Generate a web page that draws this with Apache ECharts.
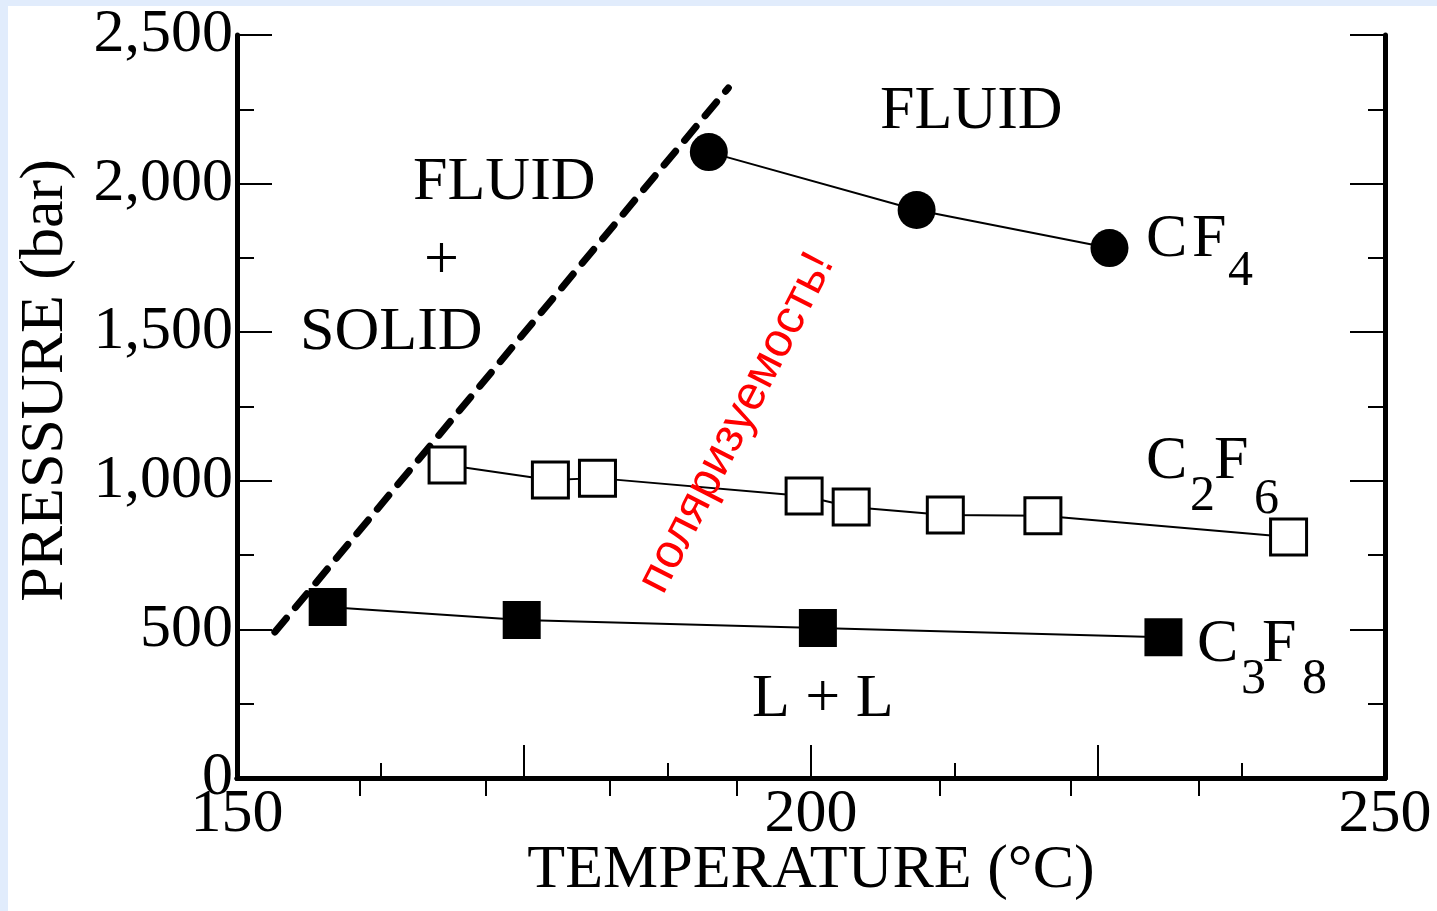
<!DOCTYPE html>
<html>
<head>
<meta charset="utf-8">
<title>Pressure vs temperature</title>
<script src="https://cdn.jsdelivr.net/npm/echarts@6/dist/echarts.min.js"></script>
<style>
    html, body { margin: 0; padding: 0; background: #ffffff; }
    #chart { width: 1437px; height: 911px; }
</style>
</head>
<body>
<div id="chart"></div>
<script>
// data
var cf4Temp = [191.1, 209.2, 226.0];
var cf4Pres = [2106, 1911, 1783];

var c2f6Temp = [168.3, 177.3, 181.4, 199.4, 203.5, 211.7, 220.2, 241.6];
var c2f6Pres = [1053, 1003, 1009, 949, 912, 885, 882, 811];

var c3f8Temp = [157.9, 174.8, 200.6, 230.7];
var c3f8Pres = [575, 532, 505, 474];

// the dashed solid/fluid boundary
var boundaryTemp = [153.3, 192.8];
var boundaryPres = [491, 2322];

var xLabelValues = [150, 200, 250];
var topTickValues = [160.7, 171.7, 182.5, 193.5, 211.2, 222.6, 233.8];

function pairs(xs, ys) {
    var out = [];
    for (let i = 0; i < xs.length; i++) {
        out.push([xs[i], ys[i]]);
    }
    return out;
}

var serif = 'Liberation Serif';
var chart = echarts.init(document.getElementById('chart'));

// plain text placed on the plot
function txt(s, x, y, size) {
    return {
        type: 'text', x: x, y: y, z: 50,
        style: {
            text: s, fontFamily: serif, fontSize: size || 62, fill: '#000',
            align: 'left', verticalAlign: 'middle'
        }
    };
}

var option = {
    backgroundColor: '#ffffff',
    animation: false,
    grid: { left: 237, right: 52, top: 35, bottom: 133, outerBoundsMode: 'none', containLabel: false },
    xAxis: [
        {
            type: 'value', position: 'bottom', min: 150, max: 250, interval: 25,
            name: 'TEMPERATURE (°C)', nameLocation: 'middle', nameGap: 62, nameMoveOverlap: false,
            nameTextStyle: { fontFamily: serif, fontSize: 62, color: '#000' },
            axisLine: { show: true, lineStyle: { color: '#000', width: 5 } },
            axisTick: { show: true, inside: true, length: 33, lineStyle: { color: '#000', width: 2 } },
            minorTick: { show: true, splitNumber: 2, length: 15, lineStyle: { color: '#000', width: 2 } },
            axisLabel: { customValues: xLabelValues, fontFamily: serif, fontSize: 62, color: '#000', margin: 6 },
            splitLine: { show: false }
        },
        {
            type: 'value', position: 'top', min: 150, max: 250,
            axisLine: { show: true, lineStyle: { color: '#000', width: 5 } },
            axisTick: { show: true, inside: true, length: 18, customValues: topTickValues, lineStyle: { color: '#000', width: 2 } },
            axisLabel: { show: false },
            splitLine: { show: false }
        }
    ],
    yAxis: [
        {
            type: 'value', position: 'left', min: 0, max: 2500, interval: 500,
            name: 'PRESSURE (bar)', nameLocation: 'middle', nameGap: 160, nameMoveOverlap: false,
            nameTextStyle: { fontFamily: serif, fontSize: 62, color: '#000', padding: [0, 0, 0, 52] },
            axisLine: { show: true, lineStyle: { color: '#000', width: 5 } },
            axisTick: { show: true, inside: true, length: 35, lineStyle: { color: '#000', width: 2 } },
            minorTick: { show: true, splitNumber: 2, length: 17, lineStyle: { color: '#000', width: 2 } },
            axisLabel: {
                fontFamily: serif, fontSize: 62, color: '#000', margin: 4,
                formatter: function (v) { return v.toLocaleString('en-US'); }
            },
            splitLine: { show: false }
        },
        {
            type: 'value', position: 'right', min: 0, max: 2500, interval: 500,
            axisLine: { show: true, lineStyle: { color: '#000', width: 5 } },
            axisTick: { show: true, inside: true, length: 35, lineStyle: { color: '#000', width: 2 } },
            minorTick: { show: true, splitNumber: 2, length: 17, lineStyle: { color: '#000', width: 2 } },
            axisLabel: { show: false },
            splitLine: { show: false }
        }
    ],
    series: [
        {
            name: 'boundary', type: 'line', data: pairs(boundaryTemp, boundaryPres),
            showSymbol: false, symbol: 'none',
            lineStyle: { color: '#000', width: 7, type: [18, 14], cap: 'round' }
        },
        {
            name: 'CF4', type: 'line', data: pairs(cf4Temp, cf4Pres),
            symbol: 'circle', symbolSize: 38,
            lineStyle: { color: '#000', width: 2 },
            itemStyle: { color: '#000' }
        },
        {
            name: 'C2F6', type: 'line', data: pairs(c2f6Temp, c2f6Pres),
            symbol: 'rect', symbolSize: 36,
            lineStyle: { color: '#000', width: 2 },
            itemStyle: { color: '#fff', borderColor: '#000', borderWidth: 3 }
        },
        {
            name: 'C3F8', type: 'line', data: pairs(c3f8Temp, c3f8Pres),
            symbol: 'rect', symbolSize: 38,
            lineStyle: { color: '#000', width: 2 },
            itemStyle: { color: '#000' }
        }
    ],
    graphic: [
        // light blue frame of the slide
        { type: 'rect', left: 0, top: 0, z: 0, shape: { width: 1437, height: 6 }, style: { fill: '#e1ecfc' } },
        { type: 'rect', left: 0, top: 0, z: 0, shape: { width: 8, height: 911 }, style: { fill: '#e1ecfc' } },
        txt('FLUID', 880, 112),
        txt('FLUID', 413, 183),
        txt('+', 424, 262),
        txt('SOLID', 300, 333),
        txt('L + L', 752, 700),
        txt('C', 1146, 240), txt('F', 1192, 240), txt('4', 1228, 272, 50),
        txt('C', 1146, 462), txt('2', 1190, 497, 50), txt('F', 1214, 462), txt('6', 1254, 500, 50),
        txt('C', 1197, 645), txt('3', 1241, 680, 50), txt('F', 1262, 645), txt('8', 1302, 680, 50),
        {
            type: 'text', x: 737, y: 423, z: 60, rotation: 1.096,
            style: {
                text: 'поляризуемость!', fontFamily: 'Liberation Sans', fontSize: 48,
                fill: '#ff0000', align: 'center', verticalAlign: 'middle'
            }
        }
    ]
};

option && chart.setOption(option);
window.addEventListener('resize', chart.resize);
</script>
</body>
</html>
